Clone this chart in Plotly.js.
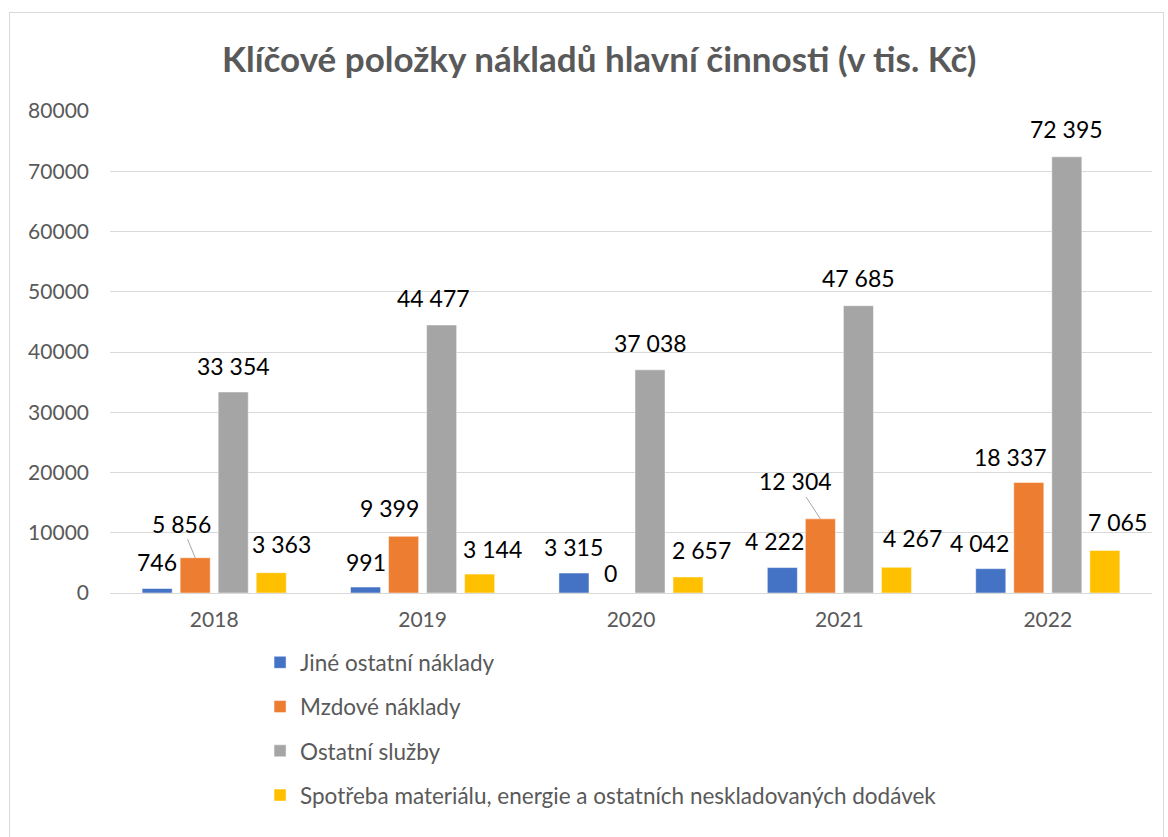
<!DOCTYPE html>
<html>
<head>
<meta charset="utf-8">
<script src="https://cdn.plot.ly/plotly-3.0.1.min.js"></script>
<style>
  html, body { margin: 0; padding: 0; background: #ffffff; }
  #chart { position: absolute; left: 9px; top: 12px; width: 1153px; height: 828px; border: 1px solid #d9d9d9; border-bottom: none; }
</style>
</head>
<body>
<div id="chart"></div>
<script>
// ---- data ----
const years = ['2018', '2019', '2020', '2021', '2022'];
const jineOstatniNaklady = [746, 991, 3315, 4222, 4042];
const mzdoveNaklady = [5856, 9399, 0, 12304, 18337];
const ostatniSluzby = [33354, 44477, 37038, 47685, 72395];
const spotrebaMaterialu = [3363, 3144, 2657, 4267, 7065];
const seriesNames = [
  'Jiné ostatní náklady',
  'Mzdové náklady',
  'Ostatní služby',
  'Spotřeba materiálu, energie a ostatních neskladovaných dodávek'
];
const seriesValues = [jineOstatniNaklady, mzdoveNaklady, ostatniSluzby, spotrebaMaterialu];

// ---- style ----
const colors = ['#4472C4', '#ED7D31', '#A5A5A5', '#FFC000'];
const bargap = 0.27;
const bargroupgap = 0.21;
const FONT = 'Lato, "Open Sans", sans-serif';
// label nudges in px: [dx, dyAboveTop]
const labelNudge = [
  [[0, 27], [0, 25.5], [0, 26], [-8, 27], [-11.5, 26]],
  [null, [-14, 28], [-1, 20], null, [-18, 26]],
  [[0, 26], [-8, 27], [0, 27], [0, 28], [0, 28]],
  [[10, 29], [13, 25], [13, 27], [16, 29], [13, 28]]
];
// leader-line labels: [ax, ay] offsets of label from bar top
const leaderNudge = [
  [null, null, null, null, null],
  [[-14, -34], null, null, [-24.5, -37.5], null],
  [null, null, null, null, null],
  [null, null, null, null, null]
];

function fmt(v) {
  return String(v).replace(/\B(?=(\d{3})+(?!\d))/g, ' ');
}

const traces = seriesValues.map((vals, j) => ({
  type: 'bar',
  name: seriesNames[j],
  x: years,
  y: vals,
  legendgroup: 'g' + j,
  marker: { color: colors[j], line: { color: 'rgba(255,255,255,0.6)', width: 0.8 } },
  hoverinfo: 'x+y'
}));

const nSeries = seriesValues.length;
const step = (1 - bargap) / nSeries;
const annotations = [];
seriesValues.forEach((vals, j) => {
  const off = (j - (nSeries - 1) / 2) * step;
  vals.forEach((v, i) => {
    const xPos = i + off;
    const lead = leaderNudge[j][i];
    if (lead) {
      annotations.push({
        x: xPos, y: v, xref: 'x', yref: 'y',
        text: fmt(v),
        showarrow: true, arrowhead: 0, arrowwidth: 1, arrowcolor: '#a6a6a6',
        ax: lead[0], ay: lead[1], standoff: 0, startstandoff: 0,
        font: { family: FONT, size: 23, color: '#000000' }
      });
    } else {
      const n = labelNudge[j][i];
      annotations.push({
        x: xPos, y: v, xref: 'x', yref: 'y',
        text: fmt(v),
        showarrow: false,
        xanchor: 'center', yanchor: 'middle',
        xshift: n[0], yshift: n[1],
        font: { family: FONT, size: 23, color: '#000000' }
      });
    }
  });
});

const layout = {
  width: 1153,
  height: 828,
  margin: { l: 100, r: 11, t: 98, b: 248 },
  paper_bgcolor: '#ffffff',
  plot_bgcolor: '#ffffff',
  font: { family: FONT, color: '#595959' },
  title: {
    text: '<b>Klíčové položky nákladů hlavní činnosti (v tis. Kč)</b>',
    font: { family: FONT, size: 35, color: '#595959' },
    xref: 'container', yref: 'container',
    x: 0.511, xanchor: 'center',
    y: 0.943, yanchor: 'middle'
  },
  barmode: 'group',
  bargap: bargap,
  bargroupgap: bargroupgap,
  xaxis: {
    type: 'category',
    showgrid: false,
    showline: false,
    ticks: '',
    ticklabelstandoff: 12,
    tickfont: { family: FONT, size: 21, color: '#595959' },
    fixedrange: true
  },
  yaxis: {
    range: [0, 80000],
    dtick: 10000,
    tickformat: 'd',
    showgrid: true,
    gridcolor: '#d9d9d9',
    gridwidth: 1,
    zeroline: true,
    zerolinecolor: '#d9d9d9',
    zerolinewidth: 1,
    showline: false,
    ticks: '',
    ticklabelstandoff: 20,
    tickfont: { family: FONT, size: 21, color: '#595959' },
    fixedrange: true
  },
  showlegend: true,
  legend: {
    orientation: 'v',
    x: 0.144, xanchor: 'left',
    y: -0.10, yanchor: 'top',
    traceorder: 'grouped',
    tracegroupgap: 12,
    font: { family: FONT, size: 22.5, color: '#595959' },
    bgcolor: 'rgba(0,0,0,0)'
  },
  annotations: annotations
};

Plotly.newPlot('chart', traces, layout, { displayModeBar: false, staticPlot: true });
</script>
</body>
</html>
